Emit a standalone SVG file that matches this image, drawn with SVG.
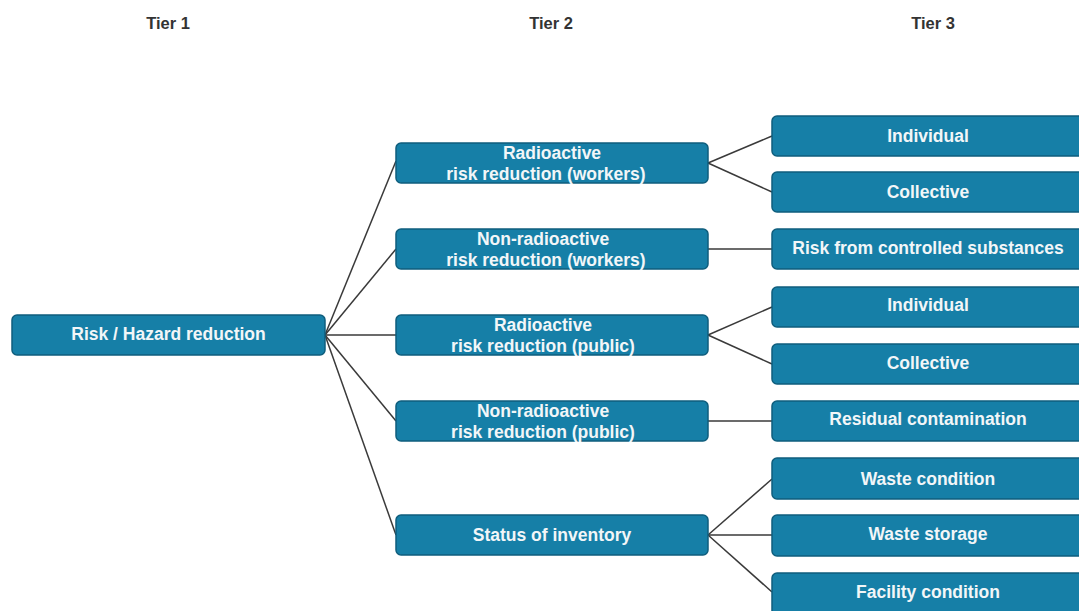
<svg xmlns="http://www.w3.org/2000/svg" width="1079" height="611" viewBox="0 0 1079 611">
<style>
.box{fill:#167fa7;stroke:#0f5e7d;stroke-width:1.5}
.t{font-family:"Liberation Sans",Arial,sans-serif;font-weight:bold;font-size:17.5px;fill:#f2f6f8;text-anchor:middle}
.h{font-family:"Liberation Sans",Arial,sans-serif;font-weight:bold;font-size:16.5px;fill:#333333;text-anchor:middle}
.c line{stroke:#3a3a3a;stroke-width:1.5}
</style>
<rect width="1079" height="611" fill="#ffffff"/>
<g id="headers">
<text class="h" x="168" y="29">Tier 1</text>
<text class="h" x="551" y="29">Tier 2</text>
<text class="h" x="933" y="29">Tier 3</text>
</g>
<g class="c" id="connectors">
<line x1="325" y1="335" x2="396" y2="161"/>
<line x1="325" y1="335" x2="396" y2="249"/>
<line x1="325" y1="335" x2="396" y2="335"/>
<line x1="325" y1="335" x2="396" y2="421"/>
<line x1="325" y1="335" x2="396" y2="535"/>
<line x1="708" y1="163" x2="772" y2="136"/>
<line x1="708" y1="163" x2="772" y2="192"/>
<line x1="708" y1="249" x2="772" y2="249"/>
<line x1="708" y1="335" x2="772" y2="307"/>
<line x1="708" y1="335" x2="772" y2="364"/>
<line x1="708" y1="421" x2="772" y2="421"/>
<line x1="708" y1="535" x2="772" y2="479"/>
<line x1="708" y1="535" x2="772" y2="535"/>
<line x1="708" y1="535" x2="772" y2="592"/>
</g>
<g id="n-risk"><rect class="box" x="12" y="315" width="313" height="40" rx="5"/><text class="t" x="168.5" y="340">Risk / Hazard reduction</text></g>
<g id="n-rw"><rect class="box" x="396" y="143" width="312" height="40" rx="5"/><text class="t" x="552" y="159">Radioactive</text><text class="t" x="546" y="180">risk reduction (workers)</text></g>
<g id="n-nrw"><rect class="box" x="396" y="229" width="312" height="40" rx="5"/><text class="t" x="543" y="245">Non-radioactive</text><text class="t" x="546" y="266">risk reduction (workers)</text></g>
<g id="n-rp"><rect class="box" x="396" y="315" width="312" height="40" rx="5"/><text class="t" x="543" y="331">Radioactive</text><text class="t" x="543" y="352">risk reduction (public)</text></g>
<g id="n-nrp"><rect class="box" x="396" y="401" width="312" height="40" rx="5"/><text class="t" x="543" y="417">Non-radioactive</text><text class="t" x="543" y="438">risk reduction (public)</text></g>
<g id="n-inv"><rect class="box" x="396" y="515" width="312" height="40" rx="5"/><text class="t" x="552" y="541">Status of inventory</text></g>
<g id="n-ind1"><rect class="box" x="772" y="116" width="313" height="40" rx="5"/><text class="t" x="928" y="142">Individual</text></g>
<g id="n-col1"><rect class="box" x="772" y="172" width="313" height="40" rx="5"/><text class="t" x="928" y="198">Collective</text></g>
<g id="n-cs"><rect class="box" x="772" y="229" width="313" height="40" rx="5"/><text class="t" x="928" y="254">Risk from controlled substances</text></g>
<g id="n-ind2"><rect class="box" x="772" y="287" width="313" height="40" rx="5"/><text class="t" x="928" y="311">Individual</text></g>
<g id="n-col2"><rect class="box" x="772" y="344" width="313" height="40" rx="5"/><text class="t" x="928" y="369">Collective</text></g>
<g id="n-res"><rect class="box" x="772" y="401" width="313" height="40" rx="5"/><text class="t" x="928" y="425">Residual contamination</text></g>
<g id="n-wc"><rect class="box" x="772" y="458" width="313" height="41" rx="5"/><text class="t" x="928" y="485">Waste condition</text></g>
<g id="n-ws"><rect class="box" x="772" y="515" width="313" height="41" rx="5"/><text class="t" x="928" y="540">Waste storage</text></g>
<g id="n-fc"><rect class="box" x="772" y="573" width="313" height="44" rx="5"/><text class="t" x="928" y="598">Facility condition</text></g>
</svg>
